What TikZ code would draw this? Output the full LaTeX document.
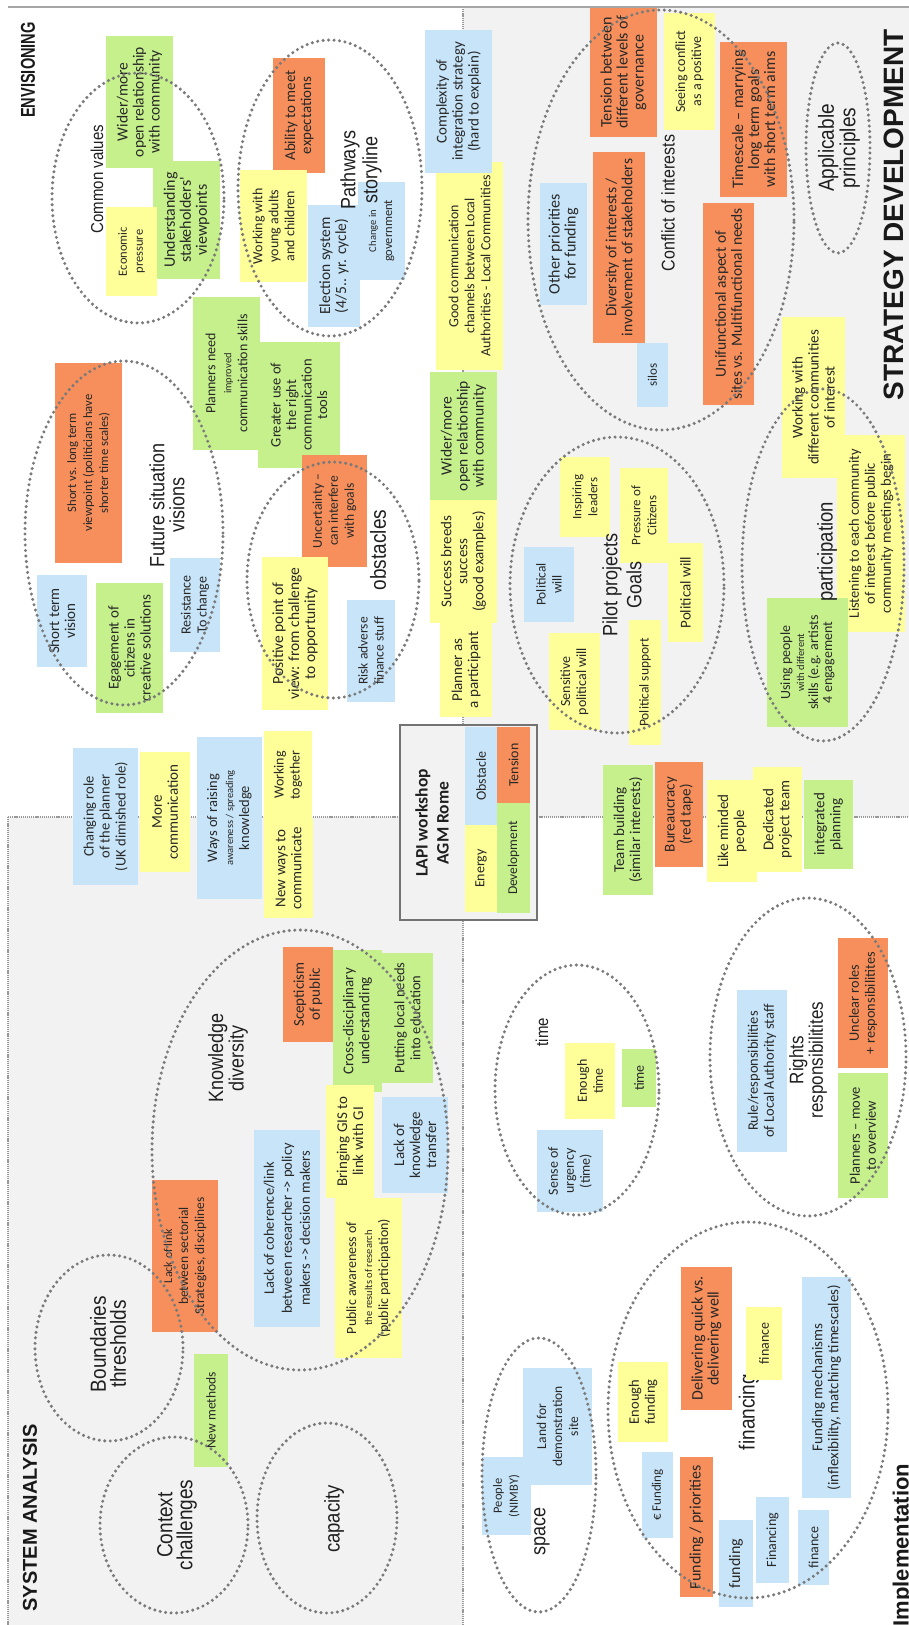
\documentclass[tikz,border=0pt]{standalone}
\usepackage{fontspec}
\usepackage{graphicx}
\usetikzlibrary{shapes.geometric}
\newfontfamily\nf{Carlito}
\newfontfamily\tf{Liberation Sans}
\definecolor{cOr}{RGB}{246,143,92}
\definecolor{cYe}{RGB}{255,255,153}
\definecolor{cGr}{RGB}{197,240,140}
\definecolor{cBl}{RGB}{199,228,248}
\definecolor{cBg}{RGB}{242,242,242}
\definecolor{cDot}{RGB}{122,122,122}
\definecolor{cTxt}{RGB}{40,40,40}
\newcommand\NF[2]{\nf\fontsize{#1}{#2}\selectfont}
\newcommand\TF[2]{\tf\fontsize{#1}{#2}\selectfont}
\newcommand\HF[1]{\tf\bfseries\fontsize{#1}{#1}\selectfont}
\newcommand\sm[1]{{\fontsize{10.5}{16}\selectfont #1}}
% sticky note: name, colour, x1, y1, x2, y2, text (text reads bottom to top)
\newcommand\nt[8][]{\node[notebox,fill=#3,minimum width={#7-#5},minimum height={#6-#4},#1] (#2) at ({(#4+#6)/2},{(#5+#7)/2}) {#8};}
% dotted cluster outline: name, centre x, centre y, x radius, y radius
\newcommand\el[5]{\node[dotell,minimum width={2*#4},minimum height={2*#5}] (#1) at (#2,#3) {};}
% cluster title
\newcommand\ttl[5][]{\node[titlebox,#1] (#2) at (#3,#4) {#5};}
\begin{document}
\begin{tikzpicture}[x=1pt,y=-1pt,
  notebox/.style={rotate=90,inner sep=0pt,align=center,text=cTxt,font=\NF{15}{16}},
  nsz/.style={font=\NF{#1}{16}},
  titlebox/.style={rotate=90,yscale=1.15,inner sep=0pt,align=center,text=black!88,font=\TF{18}{17}},
  dotell/.style={ellipse,draw=cDot,line width=3.4pt,dash pattern=on 0pt off 5.5pt,line cap=round,inner sep=0pt},
  divline/.style={draw=gray!80,line width=1.1pt,dash pattern=on 1.2pt off 0.9pt},
  head/.style={rotate=90,inner sep=0pt,text=black!90}]
\useasboundingbox (0,0) rectangle (909,1625);
\fill[white] (0,0) rectangle (909,1625);
% shaded quadrants
\fill[cBg] (463,7) rectangle (909,817);
\fill[cBg] (8,817) rectangle (463,1625);
% quadrant dividers
\draw[divline] (463,7) -- (463,1625);
\draw[divline] (8,817) -- (909,817);
\draw[divline] (8,817) -- (8,1625);
\draw[draw=gray!70,line width=1.6pt] (8,7) -- (909,7);

% legend box in the middle
\node[draw=gray!90!black,line width=2pt,fill=cBg,minimum width=137,minimum height=195,inner sep=0pt] (lapi) at (468.5,822.5) {};
\node[rotate=90,inner sep=0pt,align=center,text=black!88,font={\nf\bfseries\fontsize{17.5}{21}\selectfont}] (lapit) at (432,823) {LAPI workshop\\AGM Rome};

% title partly hidden under a note
\ttl[font=\TF{19}{17}]{tFI}{749}{1412}{financing}

% ---- Envisioning
\nt[nsz=15.5]{cvA}{cGr}{106}{36}{173}{168}{Wider/more\\open relationship\\with community}
\nt[nsz=16]{cvB}{cGr}{153}{161}{220}{279}{Understanding\\stakeholders'\\viewpoints}
\nt[nsz=12.5]{cvC}{cYe}{106}{207}{157}{296}{Economic\\pressure}
\nt[nsz=15]{psA}{cOr}{273}{58}{325}{173}{Ability to meet\\expectations}
\nt[nsz=14]{psB}{cYe}{240}{170}{307}{282}{Working with\\young adults\\and children}
\nt[nsz=15.5]{psC}{cBl}{308}{205}{360}{327}{Election system\\(4/5.. yr. cycle)}
\nt[nsz=12.5]{psD}{cBl}{358}{182}{405}{280}{\sm{Change in}\\government}
\nt[nsz=14]{gc}{cYe}{436}{162}{503}{370}{Good communication\\channels between Local\\Authorities - Local Communities}
\nt[nsz=15]{cx}{cBl}{425}{30}{492}{173}{Complexity of\\integration strategy\\(hard to explain)}
\nt[nsz=15.5]{wm}{cGr}{430}{372}{497}{500}{Wider/more\\open relationship\\with community}
\nt[nsz=15]{sb}{cYe}{430}{500}{497}{623}{Success breeds\\success\\(good examples)}
\nt[nsz=15]{pp}{cYe}{440}{623}{492}{717}{Planner as\\a participant}
\nt[nsz=12.7]{fsA}{cOr}{55}{363}{122}{563}{Short vs. long term\\viewpoint (politicians have\\shorter time scales)}
\nt[nsz=15]{fsB}{cBl}{37}{575}{87}{667}{Short term\\vision}
\nt[nsz=15]{fsC}{cGr}{96}{583}{163}{713}{Egagement of\\citizens in\\creative solutions}
\nt[nsz=14]{fsD}{cBl}{170}{558}{220}{652}{Resistance\\To change}
\nt[nsz=14]{pn}{cGr}{193}{297}{260}{450}{Planners need\\\sm{improved}\\communication skills}
\nt[font=\NF{14.5}{15.5}]{gu}{cGr}{258}{342}{340}{468}{Greater use of\\the right\\communication\\tools}
\nt[nsz=13.5]{obA}{cOr}{302}{455}{367}{567}{Uncertainty –\\can interfere\\with goals}
\nt[nsz=15.5]{obB}{cYe}{262}{557}{328}{710}{Positive point of\\view: from challenge\\to opportunity}
\nt[nsz=13.5]{obC}{cBl}{347}{600}{395}{702}{Risk adverse\\finance stuff}
\nt[nsz=14.5]{cr}{cBl}{73}{748}{138}{885}{Changing role\\of the planner\\(UK dimished role)}
\nt[nsz=15]{mc}{cYe}{140}{752}{190}{872}{More\\communication}
\nt[nsz=14.5]{wr}{cBl}{197}{737}{262}{899}{Ways of raising\\\sm{awareness / spreading}\\knowledge}
\nt[nsz=14]{wt}{cYe}{264}{731}{312}{819}{Working\\together}
\nt[nsz=15]{nw}{cYe}{264}{819}{313}{918}{New ways to\\communicate}

% ---- Strategy development
\nt[nsz=16]{tb}{cOr}{590}{8}{657}{137}{Tension between\\different levels of\\governance}
\nt[nsz=14]{sc}{cYe}{664}{13}{715}{130}{Seeing conflict\\as a positive}
\nt[nsz=16]{ts}{cOr}{720}{42}{787}{197}{Timescale – marrying\\long term goals\\with short term aims}
\nt[nsz=15.5]{di}{cOr}{593}{152}{645}{343}{Diversity of interests /\\involvement of stakeholders}
\nt[nsz=16]{op}{cBl}{540}{183}{587}{305}{Other priorities\\for funding}
\nt[nsz=13]{si}{cBl}{637}{343}{668}{407}{silos}
\nt[nsz=15.5]{uf}{cOr}{703}{203}{754}{405}{Unifunctional aspect of\\sites vs. Multifunctional needs}
\nt[nsz=13.5]{pwA}{cBl}{524}{547}{574}{622}{Political\\will}
\nt[nsz=13]{il}{cYe}{560}{457}{610}{537}{Inspiring\\leaders}
\nt[nsz=14]{sw}{cYe}{549}{633}{600}{730}{Sensitive\\political will}
\nt[nsz=13]{pc}{cYe}{620}{468}{668}{563}{Pressure of\\Citizens}
\nt[nsz=15]{pwB}{cYe}{668}{543}{703}{642}{Political will}
\nt[nsz=13.5]{ps}{cYe}{629}{620}{661}{745}{Political support}
\nt[nsz=15]{wc}{cYe}{782}{317}{845}{478}{Working with\\different communities\\of interest}
\nt[nsz=14.5]{ls}{cYe}{837}{435}{905}{632}{Listening to each community\\of interest before public\\community meetings begin}
\nt[font=\NF{14}{14}]{up}{cGr}{767}{598}{848}{727}{Using people\\\sm{with different}\\skills (e.g. artists\\4 engagement}
\nt[nsz=15]{tbd}{cGr}{603}{765}{653}{895}{Team building\\(similar interests)}
\nt[nsz=15]{bu}{cOr}{655}{762}{703}{867}{Bureaucracy\\(red tape)}
\nt[nsz=15]{lm}{cYe}{707}{780}{757}{882}{Like minded\\people}
\nt[nsz=15]{dp}{cYe}{753}{767}{802}{872}{Dedicated\\project team}
\nt[nsz=15]{ig}{cGr}{804}{780}{853}{869}{integrated\\planning}

% ---- legend colours
\nt[nsz=14]{lgO}{cBl}{465}{727}{497}{825}{Obstacle}
\nt[nsz=14]{lgT}{cOr}{497}{727}{530}{803}{Tension}
\nt[nsz=14]{lgE}{cYe}{465}{825}{497}{912}{Energy}
\nt[nsz=13.5]{lgD}{cGr}{497}{803}{530}{913}{Development}

% ---- Implementation
\nt[nsz=14]{su}{cBl}{537}{1130}{603}{1212}{Sense of\\urgency\\(time)}
\nt[nsz=14]{et}{cYe}{565}{1043}{615}{1119}{Enough\\time}
\nt[nsz=14]{tg}{cGr}{622}{1049}{656}{1107}{time}
\nt[nsz=14.5]{rr}{cBl}{737}{990}{787}{1152}{Rule/responsibilities\\of Local Authority staff}
\nt[nsz=14.3]{uc}{cOr}{838}{938}{888}{1068}{Unclear roles\\+ responsibilitites}
\nt[nsz=14.5]{pm}{cGr}{838}{1073}{888}{1198}{Planners – move\\to overview}
\nt[nsz=12.5]{pe}{cBl}{482}{1457}{531}{1535}{People\\(NIMBY)}
\nt[nsz=13.5]{ld}{cBl}{523}{1368}{592}{1485}{Land for\\demonstration\\site}
\nt[nsz=14.5]{ef}{cYe}{618}{1362}{668}{1442}{Enough\\funding}
\nt[nsz=16]{dq}{cOr}{681}{1267}{732}{1410}{Delivering quick vs.\\delivering well}
\nt[nsz=14]{fiA}{cYe}{746}{1307}{782}{1380}{finance}
\nt[nsz=13]{eu}{cBl}{642}{1452}{673}{1538}{€ Funding}
\nt[nsz=16]{fp}{cOr}{680}{1457}{713}{1597}{Funding / priorities}
\nt[nsz=16]{fu}{cBl}{719}{1520}{753}{1607}{funding}
\nt[nsz=14]{fc}{cBl}{756}{1497}{789}{1583}{Financing}
\nt[nsz=14]{fiB}{cBl}{798}{1510}{829}{1585}{finance}
\nt[nsz=15]{fm}{cBl}{802}{1277}{851}{1498}{Funding mechanisms\\(inflexibility, matching timescales)}

% ---- System analysis
\nt[nsz=15]{sp}{cOr}{283}{947}{333}{1042}{Scepticism\\of public}
\nt[nsz=15]{cd}{cGr}{333}{950}{382}{1092}{Cross-disciplinary\\understanding}
\nt[nsz=14.5]{pl}{cGr}{382}{953}{433}{1083}{Putting local needs\\into education}
\nt[font=\NF{14.5}{18}]{lc}{cBl}{254}{1130}{320}{1327}{Lack of coherence/link\\between researcher -> policy\\makers -> decision makers}
\nt[nsz=15]{bg}{cYe}{326}{1085}{374}{1198}{Bringing GIS to\\link with GI}
\nt[nsz=15]{lk}{cBl}{382}{1097}{448}{1193}{Lack of\\knowledge\\transfer}
\nt[nsz=14]{pa}{cYe}{335}{1198}{402}{1358}{Public awareness of\\\sm{the results of research}\\(public participation)}
\nt[nsz=13.5]{ll}{cOr}{152}{1180}{218}{1332}{{\fontsize{12}{16}\selectfont Lack of link}\\between sectorial\\Strategies, disciplines}
\nt[nsz=13.5]{nm}{cGr}{194}{1354}{228}{1467}{New methods}

% ---- cluster titles
\ttl[font=\TF{15}{15}]{tCV}{97}{179}{Common values}
\ttl[font=\TF{18}{19}]{tPS}{361}{170}{Pathways\\storyline}
\ttl[font=\TF{18}{17.4}]{tFS}{167}{505}{Future situation\\visions}
\ttl[font=\TF{19}{17}]{tOB}{378}{550}{obstacles}
\ttl[font=\TF{16}{16}]{tCI}{668}{203}{Conflict of interests}
\ttl[font=\TF{19}{15.7}]{tAP}{839}{148}{Applicable\\principles}
\ttl[font=\TF{18}{21}]{tPG}{622}{585}{Pilot projects\\Goals}
\ttl[font=\TF{18.5}{17}]{tPA}{827}{552}{participation}
\ttl[font=\TF{18}{16.5}]{tKD}{228}{1058}{Knowledge\\diversity}
\ttl[font=\TF{19}{17.4}]{tBT}{108}{1344}{Boundaries\\thresholds}
\ttl[font=\TF{19}{17.4}]{tCC}{177}{1525}{Context\\challenges}
\ttl[font=\TF{18.5}{17}]{tCA}{334}{1519}{capacity}
\ttl[font=\TF{15}{15}]{tTI}{542}{1032}{time}
\ttl[font=\TF{17}{14.8}]{tRR}{808}{1060}{Rights\\responsibilitites}
\ttl[font=\TF{18}{17}]{tSP}{542}{1531}{space}

% ---- dotted cluster outlines
\el{eCV}{138}{198}{86}{125}
\el{ePS}{330}{188}{92}{148}
\el{eFS}{124}{533}{99}{172}
\el{eOB}{333}{580}{86}{118}
\el{eCI}{661}{220}{133}{210}
\el{eAP}{838}{148}{32}{105}
\el{ePG}{617}{585}{107}{148}
\el{ePA}{823}{565}{81}{176}
\el{eKD}{300}{1150}{148}{220}
\el{eBT}{109}{1348}{74}{93}
\el{eCC}{174}{1525}{74}{88}
\el{eCA}{327}{1518}{70}{95}
\el{eTI}{577}{1090}{82}{125}
\el{eRR}{808}{1057}{98}{159}
\el{eSP}{539}{1475}{57}{137}
\el{eFI}{748}{1410}{140}{188}

% ---- quadrant headings
\node[head,font=\HF{20}] (hEnv) at (28,70) {\scalebox{0.73}[1]{ENVISIONING}};
\node[head,font=\HF{20}] (hSys) at (30,1518) {SYSTEM ANALYSIS};
\node[head,font=\HF{28}] (hStr) at (894,215) {STRATEGY DEVELOPMENT};
\node[head,font=\HF{22}] (hImp) at (903,1545) {Implementation};
\end{tikzpicture}
\end{document}
